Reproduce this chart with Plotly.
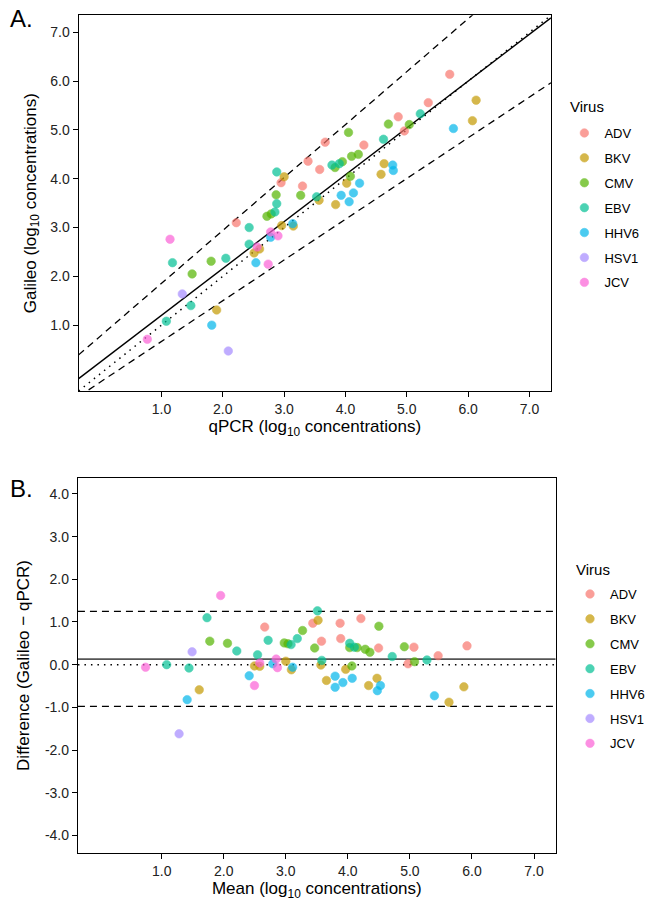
import plotly.graph_objects as go

# ---------------- data ----------------
viruses = ["ADV", "BKV", "CMV", "EBV", "HHV6", "HSV1", "JCV"]
colors = ["#F8766D", "#C49A00", "#53B400", "#00C094", "#00B6EB", "#A58AFF", "#FB61D7"]

adv_qpcr = [5.70, 5.35, 4.86, 4.96, 3.67, 4.30, 3.39, 3.58, 2.95, 3.30, 2.22]
adv_galileo = [6.14, 5.56, 5.27, 4.98, 4.75, 4.69, 4.36, 4.19, 3.92, 3.85, 3.10]

bkv_qpcr = [6.13, 6.07, 4.63, 4.58, 4.02, 3.84, 3.57, 3.00, 2.96, 3.15, 2.60, 2.51, 1.90]
bkv_galileo = [5.61, 5.19, 4.31, 4.09, 3.91, 3.47, 3.56, 4.04, 3.04, 3.03, 2.56, 2.48, 1.31]

cmv_qpcr = [4.70, 5.04, 4.05, 4.10, 4.21, 3.83, 3.95, 4.08, 2.87, 3.27, 2.79, 2.72, 1.81, 1.50]
cmv_galileo = [5.12, 5.11, 4.95, 4.46, 4.50, 4.23, 4.35, 4.05, 3.67, 3.66, 3.28, 3.23, 2.31, 2.05]

ebv_qpcr = [5.22, 4.62, 3.78, 3.90, 3.53, 2.88, 2.88, 2.85, 2.43, 2.43, 1.18, 2.05, 1.48, 1.08]
ebv_galileo = [5.33, 4.81, 4.28, 4.31, 3.63, 4.14, 3.49, 3.32, 3.00, 2.66, 2.28, 2.37, 1.40, 1.08]

hhv6_qpcr = [5.76, 4.77, 4.78, 4.23, 4.13, 3.93, 4.06, 3.14, 2.78, 2.54, 1.82]
hhv6_galileo = [5.03, 4.28, 4.17, 3.91, 3.71, 3.66, 3.53, 3.08, 2.80, 2.28, 1.00]

hsv1_qpcr = [1.34, 2.09]
hsv1_galileo = [1.64, 0.47]

jcv_qpcr = [2.78, 2.90, 1.14, 2.56, 2.74, 0.77]
jcv_galileo = [2.91, 2.83, 2.76, 2.60, 2.25, 0.71]

qpcr_values = [adv_qpcr, bkv_qpcr, cmv_qpcr, ebv_qpcr, hhv6_qpcr, hsv1_qpcr, jcv_qpcr]
galileo_values = [adv_galileo, bkv_galileo, cmv_galileo, ebv_galileo, hhv6_galileo, hsv1_galileo, jcv_galileo]

# reference lines, panel A (intercept, slope)
fit_line = (0.24, 0.96)
upper_band = (0.77, 1.085)
lower_band = (-0.17, 0.835)
identity_line = (0.0, 1.0)

# Bland-Altman lines, panel B
bias = 0.13
upper_loa = 1.25
lower_loa = -0.98

axis_range = [-0.35, 7.35]
diff_range = [-4.42, 4.38]
tick_vals_a = [1, 2, 3, 4, 5, 6, 7]
tick_text_a = ["1.0", "2.0", "3.0", "4.0", "5.0", "6.0", "7.0"]
tick_vals_b = [-4, -3, -2, -1, 0, 1, 2, 3, 4]
tick_text_b = ["-4.0", "-3.0", "-2.0", "-1.0", "0.0", "1.0", "2.0", "3.0", "4.0"]
legend_title = "Virus"

# ---------------- figure ----------------
FONT = "Liberation Sans, Arial, Helvetica, sans-serif"
fig = go.Figure()

def add_line(params, xa, ya, dash, color="black", width=1.3):
    b0, b1 = params
    xs = axis_range
    ys = [b0 + b1 * v for v in xs]
    fig.add_trace(go.Scatter(x=xs, y=ys, mode="lines", xaxis=xa, yaxis=ya,
                             line=dict(color=color, width=width, dash=dash),
                             showlegend=False, hoverinfo="skip"))

add_line(upper_band, "x", "y", "7px,5px")
add_line(lower_band, "x", "y", "7px,5px")
add_line(identity_line, "x", "y", "1.5px,5px", width=1.5)
add_line(fit_line, "x", "y", "solid", width=1.4)

for lvl, dash, col, w in [(upper_loa, "7px,5px", "black", 1.3),
                          (lower_loa, "7px,5px", "black", 1.3),
                          (0.0, "1.5px,5px", "black", 1.5),
                          (bias, "solid", "#555555", 1.8)]:
    fig.add_trace(go.Scatter(x=axis_range, y=[lvl, lvl], mode="lines", xaxis="x2", yaxis="y2",
                             line=dict(color=col, width=w, dash=dash),
                             showlegend=False, hoverinfo="skip"))

for name, col, q, g in zip(viruses, colors, qpcr_values, galileo_values):
    mk = dict(color=col, size=8.5, opacity=0.7, line=dict(color=col, width=0.6))
    fig.add_trace(go.Scatter(x=q, y=g, mode="markers", name=name, marker=mk,
                             xaxis="x", yaxis="y", legend="legend", legendgroup="a" + name))
    means = [(a + b) / 2 for a, b in zip(q, g)]
    diffs = [b - a for a, b in zip(q, g)]
    fig.add_trace(go.Scatter(x=means, y=diffs, mode="markers", name=name, marker=mk,
                             xaxis="x2", yaxis="y2", legend="legend2", legendgroup="b" + name))

W, H = 650, 901
def px_x(p):
    return p / W
def px_y(p):
    return 1 - p / H

axis_common = dict(showline=True, linecolor="black", linewidth=1.2, mirror=True,
                   showgrid=False, zeroline=False, ticks="outside", ticklen=5,
                   tickcolor="black", tickwidth=1, automargin=False,
                   tickfont=dict(family=FONT, size=14, color="#222222"))
title_font = dict(family=FONT, size=17, color="black")
legend_common = dict(xanchor="left", yanchor="top",
                     font=dict(family=FONT, size=13, color="black"), tracegroupgap=5,
                     bgcolor="rgba(0,0,0,0)", itemwidth=30)

fig.update_layout(
    width=W, height=H, margin=dict(l=0, r=0, t=0, b=0),
    paper_bgcolor="white", plot_bgcolor="white",
    font=dict(family=FONT),
    xaxis=dict(axis_common, domain=[px_x(79), px_x(553.5)], range=axis_range,
               tickvals=tick_vals_a, ticktext=tick_text_a, anchor="y",
               title=dict(text="qPCR (log<sub>10</sub> concentrations)", font=title_font, standoff=4)),
    yaxis=dict(axis_common, domain=[px_y(391), px_y(15.3)], range=axis_range,
               tickvals=tick_vals_a, ticktext=tick_text_a, anchor="x",
               title=dict(text="Galileo (log<sub>10</sub> concentrations)", font=title_font, standoff=9)),
    xaxis2=dict(axis_common, domain=[px_x(78.3), px_x(558.3)], range=axis_range,
                tickvals=tick_vals_a, ticktext=tick_text_a, anchor="y2",
                title=dict(text="Mean (log<sub>10</sub> concentrations)", font=title_font, standoff=4)),
    yaxis2=dict(axis_common, domain=[px_y(853.3), px_y(477.7)], range=diff_range,
                tickvals=tick_vals_b, ticktext=tick_text_b, anchor="x2",
                title=dict(text="Difference (Galileo \u2212 qPCR)", font=title_font, standoff=10)),
    legend=dict(legend_common, x=px_x(567), y=px_y(118)),
    legend2=dict(legend_common, x=px_x(573), y=px_y(579)),
    annotations=[
        dict(text="A.", x=px_x(8), y=px_y(18), xref="paper", yref="paper", showarrow=False,
             xanchor="left", yanchor="middle", font=dict(family=FONT, size=24, color="black")),
        dict(text="B.", x=px_x(8), y=px_y(488), xref="paper", yref="paper", showarrow=False,
             xanchor="left", yanchor="middle", font=dict(family=FONT, size=24, color="black")),
        dict(text=legend_title, x=px_x(571), y=px_y(106), xref="paper", yref="paper", showarrow=False,
             xanchor="left", yanchor="middle", font=dict(family=FONT, size=15, color="black")),
        dict(text=legend_title, x=px_x(577), y=px_y(569), xref="paper", yref="paper", showarrow=False,
             xanchor="left", yanchor="middle", font=dict(family=FONT, size=15, color="black")),
    ],
)

fig.write_html("out.html", config={"displayModeBar": False},
               post_script="document.body.style.margin='0';")
